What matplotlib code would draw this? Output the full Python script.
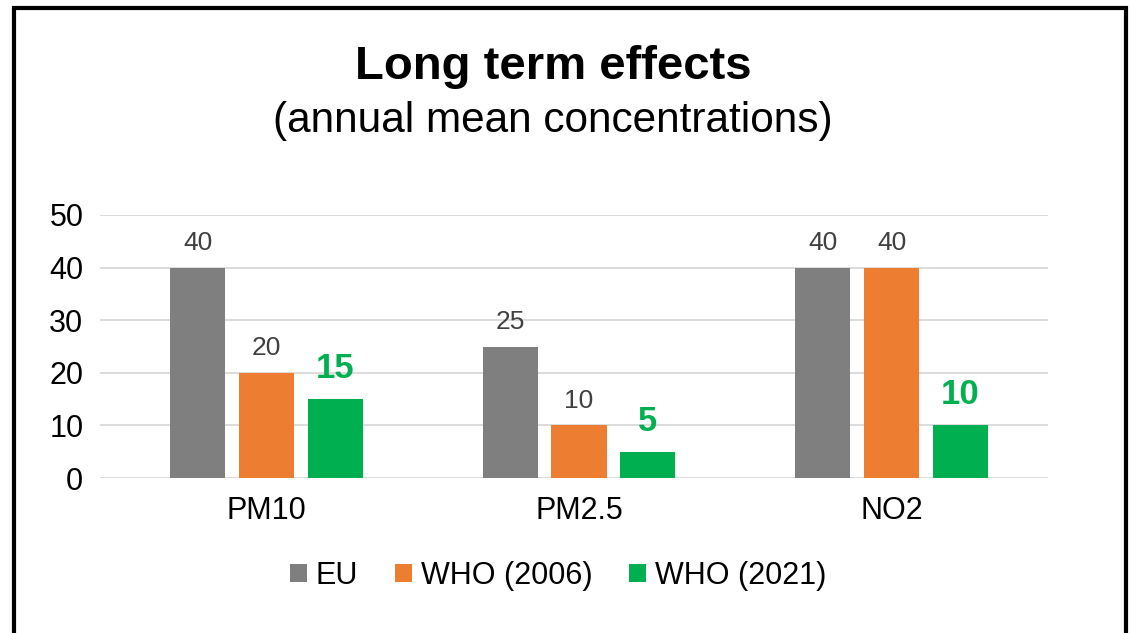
import matplotlib.pyplot as plt
import matplotlib.patches as mpatches
import numpy as np

plt.rcParams['font.family'] = ['Liberation Sans', 'DejaVu Sans']

pollutants = ['PM10', 'PM2.5', 'NO2']
series = ['EU', 'WHO (2006)', 'WHO (2021)']
eu = [40, 25, 40]
who_2006 = [20, 10, 40]
who_2021 = [15, 5, 10]
colors = ['#7f7f7f', '#ed7d31', '#00b050']

fig = plt.figure(figsize=(11.31, 6.33), dpi=100)
ax = fig.add_axes([100 / 1131, 155 / 633, 948 / 1131, 263 / 633])

x = np.arange(len(pollutants))
w = 0.176
step = 0.22
for i, (vals, name, c) in enumerate(zip([eu, who_2006, who_2021], series, colors)):
    bars = ax.bar(x + (i - 1) * step, vals, w, color=c, label=name, zorder=3)
    for b, v in zip(bars, vals):
        if i == 2:
            ax.text(b.get_x() + b.get_width() / 2, v + 4.0, str(v), ha='center', va='baseline',
                    fontsize=25, fontweight='bold', color='#00b050')
        else:
            ax.text(b.get_x() + b.get_width() / 2, v + 3.3, str(v), ha='center', va='baseline',
                    fontsize=19, color='#404040')

ax.set_xlim(-0.532, 2.5)
ax.set_ylim(0, 50)
ax.set_yticks(range(0, 51, 10))
ax.set_xticks(x)
ax.set_xticklabels(pollutants)
ax.tick_params(axis='both', length=0, labelsize=22, colors='black')
ax.tick_params(axis='x', pad=13)
ax.tick_params(axis='y', pad=12)
ax.grid(axis='y', color='#d9d9d9', linewidth=1.3, zorder=0)
for s in ax.spines.values():
    s.set_visible(False)

fig.text(553 / 1131, (633 - 79) / 633, 'Long term effects', ha='center', va='baseline',
         fontsize=34, fontweight='bold')
fig.text(553 / 1131, (633 - 132) / 633, '(annual mean concentrations)', ha='center', va='baseline',
         fontsize=30.5)

fig.legend(loc='center', bbox_to_anchor=(0.4934, 0.09), ncol=3, frameon=False, fontsize=22,
           handlelength=0.55, handleheight=0.55, handletextpad=0.3, columnspacing=1.2)

# frame around the slide, open at the bottom
fig.add_artist(mpatches.Rectangle((14 / 1131, -0.05), 1112 / 1131, (633 - 8) / 633 + 0.05,
                                  transform=fig.transFigure, fill=False, edgecolor='black',
                                  linewidth=3.0))

fig.savefig('out.png', dpi=100)
